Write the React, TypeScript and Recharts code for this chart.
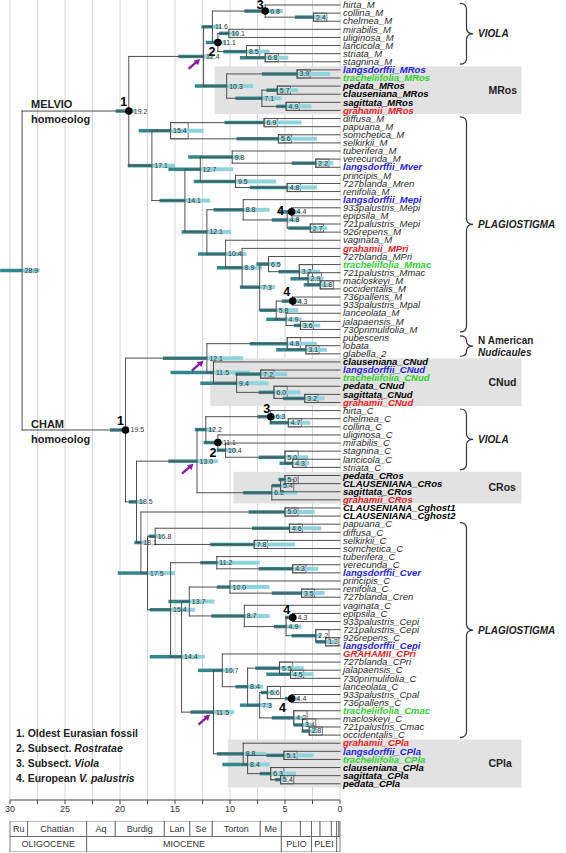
import React from 'react';
import { ComposedChart, XAxis, YAxis, CartesianGrid, ReferenceLine, ReferenceArea, Scatter } from 'recharts';

const FONT = '"Liberation Sans", Arial, sans-serif';

// tips, top to bottom
const tipNames = [
  'hirta_M', 'collina_M', 'chelmea_M', 'mirabilis_M', 'uliginosa_M', 'lancicola_M', 'striata_M', 'stagnina_M',
  'langsdorffii_MRos', 'tracheliifolia_MRos', 'pedata_MRos', 'clauseniana_MRos', 'sagittata_MRos', 'grahamii_MRos',
  'diffusa_M', 'papuana_M', 'somchetica_M', 'selkirkii_M', 'tuberifera_M', 'verecunda_M', 'langsdorffii_Mver',
  'principis_M', '727blanda_Mren', 'renifolia_M', 'langsdorffii_Mepi', '933palustris_Mepi', 'epipsila_M',
  '721palustris_Mepi', '926repens_M', 'vaginata_M', 'grahamii_MPri', '727blanda_MPri', 'tracheliifolia_Mmac',
  '721palustris_Mmac', 'macloskeyi_M', 'occidentalis_M', '736pallens_M', '933palustris_Mpal', 'lanceolata_M',
  'jalapaensis_M', '730primulifolia_M', 'pubescens', 'lobata', 'glabella_2',
  'clauseniana_CNud', 'langsdorffii_CNud', 'tracheliifolia_CNud', 'pedata_CNud', 'sagittata_CNud', 'grahamii_CNud',
  'hirta_C', 'chelmea_C', 'collina_C', 'uliginosa_C', 'mirabilis_C', 'stagnina_C', 'lancicola_C', 'striata_C',
  'pedata_CRos', 'CLAUSENIANA_CRos', 'sagittata_CRos', 'grahamii_CRos', 'CLAUSENIANA_Cghost1', 'CLAUSENIANA_Cghost2',
  'papuana_C', 'diffusa_C', 'selkirkii_C', 'somchetica_C', 'tuberifera_C', 'verecunda_C', 'langsdorffii_Cver',
  'principis_C', 'renifolia_C', '727blanda_Cren', 'vaginata_C', 'epipsila_C', '933palustris_Cepi', '721palustris_Cepi',
  '926repens_C', 'langsdorffii_Cepi', 'GRAHAMII_CPri', '727blanda_CPri', 'jalapaensis_C', '730primulifolia_C',
  'lanceolata_C', '933palustris_Cpal', '736pallens_C', 'tracheliifolia_Cmac', 'macloskeyi_C', '721palustris_Cmac',
  'occidentalis_C', 'grahamii_CPla', 'langsdorffii_CPla', 'tracheliifolia_CPla', 'clauseniana_CPla', 'sagittata_CPla',
  'pedata_CPla',
];

// [id, age (Ma), 95% HPD old, 95% HPD young, children]
type NodeRow = [string, number, number, number, string[]];
const nodes: NodeRow[] = [
  ['m24', 2.4, 4.1, 1.1, ['collina_M', 'chelmea_M']],
  ['m68a', 6.8, 8.7, 5.2, ['hirta_M', 'm24']],
  ['m101', 10.1, 11.0, 9.2, ['mirabilis_M', 'uliginosa_M']],
  ['m68b', 6.8, 9.1, 4.7, ['striata_M', 'stagnina_M']],
  ['m85', 8.5, 10.6, 6.4, ['lancicola_M', 'm68b']],
  ['m111', 11.1, 12.2, 10.4, ['m101', 'm85']],
  ['m116', 11.6, 12.6, 10.8, ['m68a', 'm111']],
  ['m39', 3.9, 7.1, 0.9, ['langsdorffii_MRos', 'tracheliifolia_MRos']],
  ['m57', 5.7, 6.7, 3.8, ['pedata_MRos', 'clauseniana_MRos']],
  ['m49', 4.9, 5.8, 2.6, ['sagittata_MRos', 'grahamii_MRos']],
  ['m71', 7.1, 9.5, 5.3, ['m57', 'm49']],
  ['m103', 10.3, 13.2, 7.9, ['m39', 'm71']],
  ['m124', 12.4, 14.7, 11.6, ['m116', 'm103']],
  ['m69', 6.9, 10.5, 3.5, ['diffusa_M', 'papuana_M']],
  ['m56', 5.6, 9.4, 2.1, ['somchetica_M', 'selkirkii_M']],
  ['m154', 15.4, 18.3, 12.4, ['m69', 'm56']],
  ['m22', 2.2, 4.4, 0.6, ['verecunda_M', 'langsdorffii_Mver']],
  ['m98', 9.8, 13.8, 8.9, ['tuberifera_M', 'm22']],
  ['m48a', 4.8, 8.2, 2.1, ['727blanda_Mren', 'renifolia_M']],
  ['m95', 9.5, 13.3, 5.8, ['principis_M', 'm48a']],
  ['m127', 12.7, 15.6, 9.7, ['m98', 'm95']],
  ['m44', 4.4, 5.6, 3.6, ['933palustris_Mepi', 'epipsila_M']],
  ['m27', 2.7, 4.7, 1.2, ['721palustris_Mepi', '926repens_M']],
  ['m48b', 4.8, 6.2, 3.7, ['m44', 'm27']],
  ['m88', 8.8, 11.5, 6.4, ['langsdorffii_Mepi', 'm48b']],
  ['m18', 1.8, 3.3, 0.9, ['macloskeyi_M', 'occidentalis_M']],
  ['m29', 2.9, 4.5, 1.5, ['721palustris_Mmac', 'm18']],
  ['m37', 3.7, 5.6, 1.8, ['tracheliifolia_Mmac', 'm29']],
  ['m65', 6.5, 7.6, 5.4, ['727blanda_MPri', 'm37']],
  ['m43', 4.3, 5.3, 3.5, ['736pallens_M', '933palustris_Mpal']],
  ['m36', 3.6, 4.2, 1.8, ['jalapaensis_M', '730primulifolia_M']],
  ['m49b', 4.9, 6.7, 3.5, ['lanceolata_M', 'm36']],
  ['m58', 5.8, 7.3, 3.8, ['m43', 'm49b']],
  ['m73', 7.3, 9.1, 5.9, ['m65', 'm58']],
  ['m89', 8.9, 11.2, 7.1, ['grahamii_MPri', 'm73']],
  ['m104', 10.4, 12.9, 8.5, ['vaginata_M', 'm89']],
  ['m121', 12.1, 14.4, 9.9, ['m88', 'm104']],
  ['m141', 14.1, 16.4, 11.8, ['m127', 'm121']],
  ['m171', 17.1, 19.3, 15.0, ['m154', 'm141']],
  ['m192', 19.2, 20.4, 18.6, ['m124', 'm171']],
  ['c31', 3.1, 5.8, 1.2, ['lobata', 'glabella_2']],
  ['c48', 4.8, 8.2, 2.1, ['pubescens', 'c31']],
  ['c72', 7.2, 9.5, 4.8, ['langsdorffii_CNud', 'tracheliifolia_CNud']],
  ['c32', 3.2, 5.2, 1.4, ['sagittata_CNud', 'grahamii_CNud']],
  ['c60', 6.0, 7.4, 3.6, ['pedata_CNud', 'c32']],
  ['c94', 9.4, 12.7, 6.5, ['c72', 'c60']],
  ['c115', 11.5, 15.4, 8.2, ['clauseniana_CNud', 'c94']],
  ['c121', 12.1, 16.1, 8.8, ['c48', 'c115']],
  ['c47', 4.7, 6.4, 2.7, ['chelmea_C', 'collina_C']],
  ['c63', 6.3, 7.5, 5.0, ['hirta_C', 'c47']],
  ['c43a', 4.3, 5.5, 2.8, ['lancicola_C', 'striata_C']],
  ['c50a', 5.0, 7.4, 2.9, ['stagnina_C', 'c43a']],
  ['c104', 10.4, 11.2, 9.4, ['mirabilis_C', 'c50a']],
  ['c111', 11.1, 12.4, 10.6, ['uliginosa_C', 'c104']],
  ['c122', 12.2, 13.2, 11.4, ['c63', 'c111']],
  ['c50b', 5.0, 5.6, 4.4, ['pedata_CRos', 'CLAUSENIANA_CRos']],
  ['c54', 5.4, 6.2, 4.6, ['c50b', 'sagittata_CRos']],
  ['c62', 6.2, 8.8, 3.9, ['c54', 'grahamii_CRos']],
  ['c130', 13.0, 15.6, 11.1, ['c122', 'c62']],
  ['c50c', 5.0, 8.3, 2.3, ['CLAUSENIANA_Cghost1', 'CLAUSENIANA_Cghost2']],
  ['c46', 4.6, 8.0, 1.7, ['papuana_C', 'diffusa_C']],
  ['c78', 7.8, 11.8, 4.1, ['selkirkii_C', 'somchetica_C']],
  ['c168', 16.8, 17.4, 16.2, ['c46', 'c78']],
  ['c43b', 4.3, 7.4, 2.0, ['verecunda_C', 'langsdorffii_Cver']],
  ['c112', 11.2, 12.7, 7.3, ['tuberifera_C', 'c43b']],
  ['c35', 3.5, 6.2, 1.4, ['renifolia_C', '727blanda_Cren']],
  ['c100', 10.0, 11.2, 6.4, ['principis_C', 'c35']],
  ['c43c', 4.3, 5.0, 3.9, ['epipsila_C', '933palustris_Cepi']],
  ['c13', 1.3, 2.2, 0.4, ['926repens_C', 'langsdorffii_Cepi']],
  ['c22', 2.2, 4.4, 1.7, ['721palustris_Cepi', 'c13']],
  ['c49', 4.9, 6.0, 3.5, ['c43c', 'c22']],
  ['c87', 8.7, 11.7, 6.4, ['vaginata_C', 'c49']],
  ['c137', 13.7, 15.6, 11.4, ['c100', 'c87']],
  ['c45', 4.5, 6.7, 2.4, ['jalapaensis_C', '730primulifolia_C']],
  ['c55', 5.5, 7.7, 3.3, ['727blanda_CPri', 'c45']],
  ['c44', 4.4, 5.0, 3.7, ['933palustris_Cpal', '736pallens_C']],
  ['c66', 6.6, 7.2, 5.8, ['lanceolata_C', 'c44']],
  ['c28', 2.8, 3.5, 2.0, ['721palustris_Cmac', 'occidentalis_C']],
  ['c34', 3.4, 4.2, 2.6, ['macloskeyi_C', 'c28']],
  ['c42', 4.2, 6.2, 3.3, ['tracheliifolia_Cmac', 'c34']],
  ['c73', 7.3, 9.1, 6.2, ['c66', 'c42']],
  ['c84a', 8.4, 9.5, 7.0, ['c55', 'c73']],
  ['c107', 10.7, 12.9, 9.6, ['GRAHAMII_CPri', 'c84a']],
  ['c51', 5.1, 6.7, 2.4, ['langsdorffii_CPla', 'tracheliifolia_CPla']],
  ['c54b', 5.4, 5.9, 4.9, ['sagittata_CPla', 'pedata_CPla']],
  ['c63b', 6.3, 7.3, 4.0, ['clauseniana_CPla', 'c54b']],
  ['c84b', 8.4, 10.7, 6.4, ['c51', 'c63b']],
  ['c88', 8.8, 11.2, 6.7, ['grahamii_CPla', 'c84b']],
  ['c115b', 11.5, 13.6, 9.6, ['c107', 'c88']],
  ['c144', 14.4, 17.3, 12.3, ['c137', 'c115b']],
  ['c154', 15.4, 17.3, 13.2, ['c112', 'c144']],
  ['c175', 17.5, 20.2, 15.0, ['c168', 'c154']],
  ['c181', 18.1, 18.7, 17.6, ['c50c', 'c175']],
  ['c185', 18.5, 19.2, 17.8, ['c130', 'c181']],
  ['c195', 19.5, 20.9, 19.2, ['c121', 'c185']],
  ['root', 28.9, 30.9, 27.3, ['m192', 'c195']],
];

// calibration / clade marks
const dotNodes = ['m192', 'c195', 'm111', 'c111', 'm68a', 'c63', 'm44', 'm43', 'c43c', 'c44'];
const dotNumbers = ['1', '1', '2', '2', '3', '3', '4', '4', '4', '4'];
const arrowNodes = ['m124', 'c121', 'c130', 'c115b'];
const boxedNodes = [
  'm24', 'm85', 'm68b', 'm39', 'm57', 'm49', 'm69', 'm154', 'm56', 'm22', 'm48a', 'm27', 'm37', 'm29', 'm18', 'm36',
  'c48', 'c31', 'c72', 'c60', 'c32', 'c47', 'c50a', 'c43a', 'c50b', 'c54', 'c50c', 'c46', 'c78', 'c43b', 'c35', 'c22',
  'c13', 'c55', 'c45', 'c66', 'c42', 'c34', 'c28', 'c51', 'c63b', 'c54b',
];

const groupNames = ['MRos', 'CNud', 'CRos', 'CPla'];
const groupTips = [[8, 13], [44, 49], [58, 61], [91, 96]];
const braceNames = [['VIOLA'], ['PLAGIOSTIGMA'], ['N American', 'Nudicaules'], ['VIOLA'], ['PLAGIOSTIGMA']];
const braceTips = [[0, 7], [14, 40], [41, 43], [50, 57], [64, 90]];

const stageNames = ['Ru', 'Chattian', 'Aq', 'Burdig', 'Lan', 'Se', 'Torton', 'Me', '', '', '', '', '', '', ''];
const stageBounds = [30, 28.4, 23.03, 20.43, 15.97, 13.65, 11.61, 7.25, 5.33, 3.6, 2.59, 1.81, 0.78, 0.3, 0.1, 0];
const epochNames = ['OLIGOCENE', 'MIOCENE', 'PLIO', 'PLEI', ''];
const epochBounds = [30, 23.03, 5.33, 2.59, 0.3, 0];

const xTicks = [30, 27.5, 25, 22.5, 20, 17.5, 15, 12.5, 10, 7.5, 5, 2.5, 0];

// ---- layout helpers (not data) ----
const groupLeft = [11.4, 11.8, 9.7, 10.2];
const RIGHT_EDGE = -16.5;
const BRACE_X: [number, number] = [-10.9, -12.1];
const dotLabelOffset: Record<string, [number, number]> = {
  m192: [-5, -9], c195: [-5, -9], m111: [-6, 9], c111: [-5, 10], m68a: [-5, -6.3], c63: [-4, -8],
  m44: [-11, -1], m43: [-6, -9], c43c: [-6, -8], c44: [-9, 9],
};

const tipIndex: Record<string, number> = {};
tipNames.forEach((n, i) => { tipIndex[n] = i; });
const nodeById: Record<string, NodeRow> = {};
nodes.forEach((n) => { nodeById[n[0]] = n; });

const yCache: Record<string, number> = {};
function yOf(k: string): number {
  if (k in tipIndex) return tipIndex[k];
  if (k in yCache) return yCache[k];
  const kids = nodeById[k][4];
  const v = kids.reduce((s, c) => s + yOf(c), 0) / kids.length;
  yCache[k] = v;
  return v;
}
const ageOf = (k: string) => (k in tipIndex ? 0 : nodeById[k][1]);

type Seg = { x1: number; y1: number; x2: number; y2: number };
const branches: Seg[] = [];
const darkBars: Seg[] = [];
const lightBars: Seg[] = [];
nodes.forEach(([id, age, hi, lo, kids]) => {
  const ys = kids.map(yOf);
  branches.push({ x1: age, y1: Math.min(...ys), x2: age, y2: Math.max(...ys) });
  kids.forEach((c) => branches.push({ x1: age, y1: yOf(c), x2: ageOf(c), y2: yOf(c) }));
  const y = yOf(id);
  darkBars.push({ x1: hi, y1: y, x2: age, y2: y });
  lightBars.push({ x1: age, y1: y, x2: lo, y2: y });
});

const nodeMarks = nodes.map(([id, age]) => {
  const di = dotNodes.indexOf(id);
  return {
    x: age,
    y: yOf(id),
    id,
    label: age.toFixed(1),
    num: di >= 0 ? dotNumbers[di] : null,
    arrow: arrowNodes.includes(id),
  };
});

const tipColor = (name: string): [string, boolean] => {
  const n = name.toLowerCase();
  if (n.startsWith('langsdorffii')) return ['#1f22e0', true];
  if (n.startsWith('tracheliifolia')) return ['#2fcf2f', true];
  if (n.startsWith('grahamii')) return ['#ec1c24', true];
  if (/^(pedata|clauseniana|sagittata)/.test(n)) return ['#000', true];
  return ['#2a2a2a', false];
};

function TipTick(props: any) {
  const { x, y, payload } = props;
  const name = tipNames[payload.value];
  if (!name) return null;
  const [color, bold] = tipColor(name);
  return (
    <text x={x + 3} y={y} dy="0.34em" fontSize={9.5} fontFamily={FONT} fontStyle="italic"
      fontWeight={bold ? 700 : 400} fill={color}>
      {name}
    </text>
  );
}

function NodeMark(p: any) {
  const { cx, cy, payload } = p;
  if (cx == null || cy == null) return null;
  const off = payload.num ? dotLabelOffset[payload.id] : null;
  return (
    <g>
      {payload.num && <circle cx={cx} cy={cy} r={3.8} fill="#000" />}
      <text x={cx + (payload.num ? 5 : 2.5)} y={cy} dy="0.35em" fontSize={7} fontFamily={FONT} fill="#333">
        {payload.label}
      </text>
      {payload.num && off && (
        <text x={cx + off[0]} y={cy + off[1]} dy="0.35em" textAnchor="middle" fontSize={12.5} fontWeight={700}
          fontFamily={FONT} fill="#000">
          {payload.num}
        </text>
      )}
      {payload.arrow && (
        <g>
          <line x1={cx - 15} y1={cy + 12.5} x2={cx - 6.5} y2={cy + 5} stroke="#8b1a9b" strokeWidth={2.4} />
          <path d={`M${cx - 3.5},${cy + 2.5} L${cx - 10},${cy + 4} L${cx - 5.5},${cy + 8.8} Z`} fill="#8b1a9b" />
        </g>
      )}
    </g>
  );
}

function Brace(p: any) {
  const { x, y, width, height, lines } = p;
  const x0 = x, x1 = x + width, xm = x + width * 0.5;
  const y0 = y, y1 = y + height, ym = y + height / 2;
  const r = Math.min(6, height / 4);
  const d = `M${x0},${y0} Q${xm},${y0} ${xm},${y0 + r} L${xm},${ym - r} Q${xm},${ym} ${x1},${ym} ` +
    `Q${xm},${ym} ${xm},${ym + r} L${xm},${y1 - r} Q${xm},${y1} ${x0},${y1}`;
  return (
    <g>
      <path d={d} fill="none" stroke="#333" strokeWidth={1.2} />
      {lines.map((t: string, i: number) => (
        <text key={i} x={x1 + 5} y={ym + (i - (lines.length - 1) / 2) * 12} dy="0.35em" fontSize={10}
          fontWeight={700} fontStyle={t === 'N American' ? 'normal' : 'italic'} fontFamily={FONT} fill="#222">
          {t}
        </text>
      ))}
    </g>
  );
}

function GroupBox(p: any) {
  const { x, y, width, height, name } = p;
  return (
    <g>
      <rect x={x} y={y} width={width} height={height} fill="#e2e2e2" />
      <text x={x + width - 33} y={y + height / 2} dy="0.35em" fontSize={10.5} fontWeight={700} fontFamily={FONT} fill="#222">
        {name}
      </text>
    </g>
  );
}

const YDOM: [number, number] = [-0.615, 98.0];

export default function App() {
  return (
    <div style={{ position: 'absolute', left: 0, top: 0, width: 566, height: 853, background: '#fff', fontFamily: FONT }}>
      <ComposedChart width={566} height={822} margin={{ top: 0, right: 0, bottom: 0, left: 10 }}>
        <CartesianGrid horizontal={false} stroke="#d6d6d6" />
        <XAxis type="number" dataKey="x" domain={[0, 30]} reversed allowDataOverflow ticks={xTicks} interval={0}
          tickFormatter={(v: number) => (v % 5 === 0 ? String(v) : '')} height={22} tickSize={4}
          tick={{ fontSize: 9, fill: '#333', fontFamily: FONT }} stroke="#444" />
        <YAxis type="number" dataKey="y" orientation="right" domain={YDOM} reversed allowDataOverflow
          ticks={tipNames.map((_, i) => i)} interval={0} width={226} axisLine={false} tickLine={false}
          tickSize={0} tickMargin={0} tick={<TipTick />} />
        {groupNames.map((g, i) => (
          <ReferenceArea key={g + i} x1={groupLeft[i]} x2={RIGHT_EDGE} y1={groupTips[i][0] - 0.45}
            y2={groupTips[i][1] + 0.45} ifOverflow="visible" shape={(p: any) => <GroupBox {...p} name={g} />} />
        ))}
        {braceNames.map((b, i) => (
          <ReferenceArea key={'br' + i} x1={BRACE_X[0]} x2={BRACE_X[1]} y1={braceTips[i][0] - 0.2}
            y2={braceTips[i][1] + 0.3} ifOverflow="visible" shape={(p: any) => <Brace {...p} lines={b} />} />
        ))}
        {lightBars.map((s, i) => (
          <ReferenceLine key={'lb' + i} segment={[{ x: s.x1, y: s.y1 }, { x: s.x2, y: s.y2 }]} stroke="#8fd3dc"
            strokeWidth={4} ifOverflow="visible" />
        ))}
        {darkBars.map((s, i) => (
          <ReferenceLine key={'db' + i} segment={[{ x: s.x1, y: s.y1 }, { x: s.x2, y: s.y2 }]} stroke="#34868d"
            strokeWidth={3.5} ifOverflow="visible" />
        ))}
        {branches.map((s, i) => (
          <ReferenceLine key={'b' + i} segment={[{ x: s.x1, y: s.y1 }, { x: s.x2, y: s.y2 }]} stroke="#4f4f4f"
            strokeWidth={1} strokeLinecap="square" ifOverflow="visible" />
        ))}
        {boxedNodes.map((id) => {
          const n = nodeById[id];
          const ys = n[4].map(yOf);
          const w = n[1] >= 10 ? 1.6 : 1.2;
          return (
            <ReferenceArea key={'bx' + id} x1={n[1]} x2={n[1] - w} y1={Math.min(...ys)} y2={Math.max(...ys)}
              ifOverflow="visible" fill="none" fillOpacity={0} stroke="#555" strokeWidth={0.8} />
          );
        })}
        <Scatter data={nodeMarks} isAnimationActive={false} shape={(p: any) => <NodeMark {...p} />} />
      </ComposedChart>

      <div style={{ position: 'absolute', left: 31, top: 97, fontSize: 11, fontWeight: 700, lineHeight: '15px', color: '#222' }}>
        MELVIO<br />homoeolog
      </div>
      <div style={{ position: 'absolute', left: 31, top: 417, fontSize: 11, fontWeight: 700, lineHeight: '15px', color: '#222' }}>
        CHAM<br />homoeolog
      </div>
      <div style={{ position: 'absolute', left: 16, top: 726, fontSize: 10.5, fontWeight: 700, lineHeight: '15px', color: '#222' }}>
        <div>1. Oldest Eurasian fossil</div>
        <div>2. Subsect. <i>Rostratae</i></div>
        <div>3. Subsect. <i>Viola</i></div>
        <div>4. European <i>V. palustris</i></div>
      </div>

      <div style={{ position: 'absolute', left: 0, top: 821 }}>
        <ComposedChart width={566} height={31} margin={{ top: 0, right: 226, bottom: 0, left: 10 }}>
          <XAxis type="number" dataKey="x" domain={[0, 30]} reversed hide allowDataOverflow />
          <YAxis type="number" dataKey="y" domain={[0, 2]} hide allowDataOverflow />
          {stageNames.map((s, i) => (
            <ReferenceArea key={'s' + i} x1={stageBounds[i]} x2={stageBounds[i + 1]} y1={1} y2={2} fill="#fff"
              fillOpacity={1} stroke="#555" strokeWidth={0.8} ifOverflow="visible"
              label={{ value: s, position: 'center', fontSize: 9, fill: '#333', fontFamily: FONT }} />
          ))}
          {epochNames.map((s, i) => (
            <ReferenceArea key={'e' + i} x1={epochBounds[i]} x2={epochBounds[i + 1]} y1={0} y2={1} fill="#fff"
              fillOpacity={1} stroke="#555" strokeWidth={0.8} ifOverflow="visible"
              label={{ value: s, position: 'center', fontSize: 9, fill: '#333', fontFamily: FONT }} />
          ))}
        </ComposedChart>
      </div>
    </div>
  );
}
